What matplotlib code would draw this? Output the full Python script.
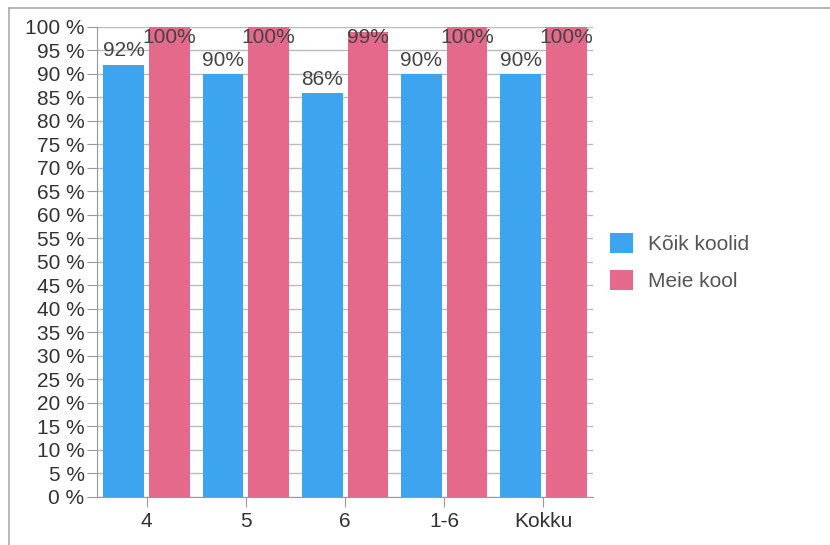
"""Grouped bar chart: Kõik koolid vs Meie kool by grade."""

import matplotlib

matplotlib.use("Agg")
import matplotlib.pyplot as plt
import numpy as np

categories = ["4", "5", "6", "1-6", "Kokku"]
koik_koolid = [92, 90, 86, 90, 90]
meie_kool = [100, 100, 99, 100, 100]
series_names = ["Kõik koolid", "Meie kool"]
y_ticks = list(range(0, 101, 5))

BLUE = "#3DA4F0"
PINK = "#E5698A"

plt.rcParams["font.family"] = ["Liberation Sans", "DejaVu Sans"]

fig = plt.figure(figsize=(8.3, 5.45), dpi=100)
ax = fig.add_axes([0.1169, 0.0881, 0.5976, 0.8624])

x = np.arange(len(categories))
width = 0.41
offset = 0.23
bars_a = ax.bar(x - offset, koik_koolid, width, color=BLUE, label=series_names[0], zorder=2)
bars_b = ax.bar(x + offset, meie_kool, width, color=PINK, label=series_names[1], zorder=2)

ax.set_xlim(-0.5, len(categories) - 0.5)
ax.set_ylim(0, 100)
ax.set_yticks(y_ticks)
ax.set_yticklabels([f"{t} %" for t in y_ticks], fontsize=15, color="#333333")
ax.set_xticks(x)
ax.set_xticklabels(categories, fontsize=15, color="#333333")
ax.tick_params(axis="y", length=7, color="#999999", pad=2)
ax.tick_params(axis="x", length=7, color="#999999", pad=4)
ax.yaxis.grid(True, color="#bbbbbb", linewidth=1, zorder=0)
ax.set_axisbelow(True)
for side in ["top", "right"]:
    ax.spines[side].set_visible(False)
for side in ["left", "bottom"]:
    ax.spines[side].set_color("#999999")

# value labels, pushed down inside the bar when there is no room above
for bars, values in [(bars_a, koik_koolid), (bars_b, meie_kool)]:
    for bar, v in zip(bars, values):
        cx = bar.get_x() + bar.get_width() / 2
        if v > 96:
            ax.annotate(f"{v}%", (cx, 100), xytext=(0, -1), textcoords="offset points",
                        ha="center", va="top", fontsize=15, color="#444444", zorder=3)
        else:
            ax.annotate(f"{v}%", (cx, v), xytext=(0, 3), textcoords="offset points",
                        ha="center", va="bottom", fontsize=15, color="#444444", zorder=3)

ax.legend(loc="center left", bbox_to_anchor=(1.01, 0.5), frameon=False, fontsize=15,
          handlelength=1.1, handleheight=1.1, handletextpad=0.7, labelspacing=0.75,
          borderaxespad=0.2, labelcolor="#555555")

# outer frame lines at top and left
fig.add_artist(plt.Line2D([9 / 830, 1], [1 - 8 / 545] * 2, color="#aaaaaa", linewidth=1.2))
fig.add_artist(plt.Line2D([9 / 830] * 2, [0, 1 - 8 / 545], color="#aaaaaa", linewidth=1.2))

fig.savefig("out.png", dpi=100)
